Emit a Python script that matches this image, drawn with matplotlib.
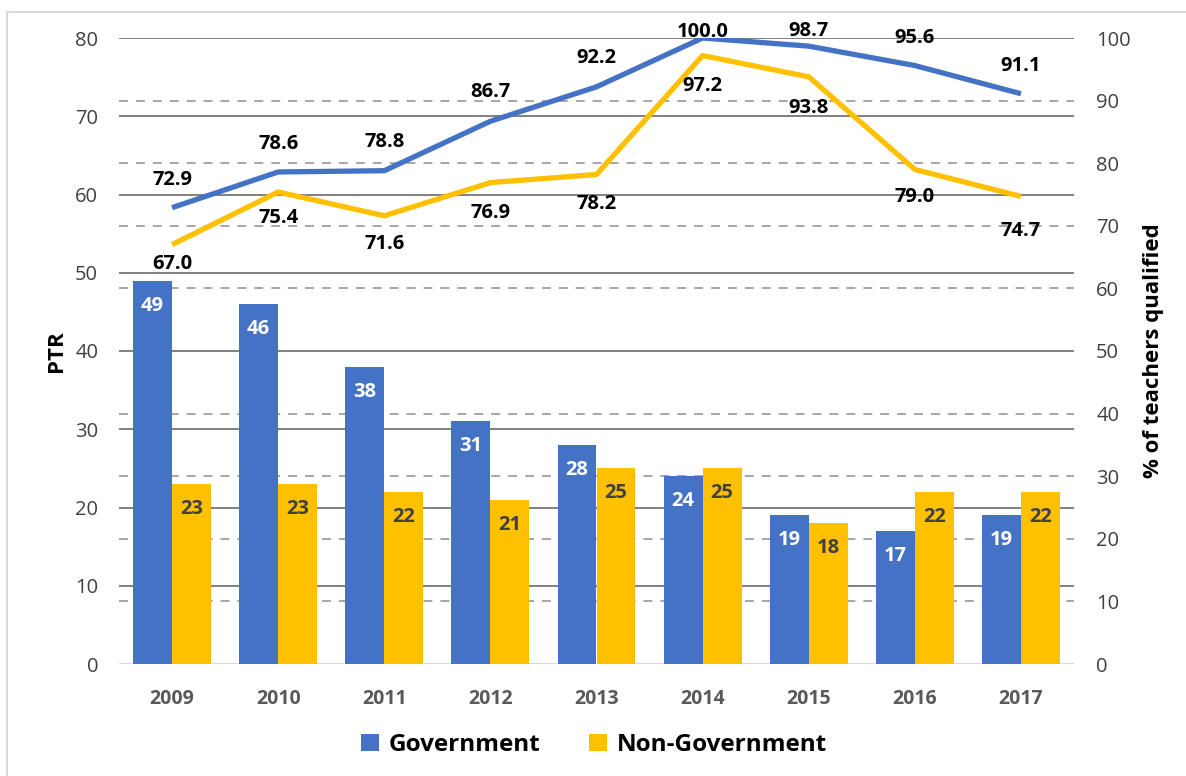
import matplotlib
matplotlib.use("Agg")
import matplotlib.pyplot as plt
from matplotlib.patches import Rectangle
import numpy as np

years = ["2009", "2010", "2011", "2012", "2013", "2014", "2015", "2016", "2017"]
ptr_gov = [49, 46, 38, 31, 28, 24, 19, 17, 19]
ptr_nongov = [23, 23, 22, 21, 25, 25, 18, 22, 22]
qual_gov = [72.9, 78.6, 78.8, 86.7, 92.2, 100.0, 98.7, 95.6, 91.1]
qual_nongov = [67.0, 75.4, 71.6, 76.9, 78.2, 97.2, 93.8, 79.0, 74.7]
left_ticks = [0, 10, 20, 30, 40, 50, 60, 70, 80]
right_ticks = [0, 10, 20, 30, 40, 50, 60, 70, 80, 90, 100]

# label offsets (pixels) for line data labels -- styling only
gov_lab_off = [-28, -28, -29, -29, -29, -6, -15, -28, -28]
non_lab_off = [19, 26, 28, 30, 30, 30, 31, 28, 35]

BLUE = "#4472C4"
YELLOW = "#FFC000"
FONT = ["Open Sans", "DejaVu Sans"]
plt.rcParams['font.family'] = FONT

fig = plt.figure(figsize=(11.86, 7.76), dpi=100)
ax = fig.add_axes([119/1186, 1-664/776, (1074-119)/1186, (664-38)/776])
ax2 = ax.twinx()

x = np.arange(len(years))
bw = 0.3675
LMAX, RMAX = 80, 100

# gridlines
for t in left_ticks[1:]:
    ax.axhline(t, color="#808080", lw=1.4, zorder=1)
for t in right_ticks[1:]:
    yv = t * LMAX / RMAX
    if any(abs(yv - lt) < 1e-9 for lt in left_ticks):
        continue
    ax.axhline(yv, color="#A6A6A6", lw=1.4, linestyle=(0, (4.6, 4.1)), zorder=1)
ax.axhline(0, color="#D9D9D9", lw=1.5, zorder=1)

b1 = ax.bar(x - bw/2, ptr_gov, bw, color=BLUE, zorder=2, label="Government")
b2 = ax.bar(x + bw/2, ptr_nongov, bw, color=YELLOW, zorder=2, label="Non-Government")

for xi, v in zip(x, ptr_gov):
    ax.annotate(str(v), (xi - bw/2, v), xytext=(0, -25), textcoords="offset pixels",
                ha="center", va="center", color="white", fontsize=14.5, fontweight="bold", zorder=3)
for xi, v in zip(x, ptr_nongov):
    ax.annotate(str(v), (xi + bw/2, v), xytext=(0, -25), textcoords="offset pixels",
                ha="center", va="center", color="#404040", fontsize=14.5, fontweight="bold", zorder=3)

ax2.plot(x, qual_gov, color=BLUE, lw=3.8, solid_capstyle="butt", solid_joinstyle="round")
ax2.plot(x, qual_nongov, color=YELLOW, lw=3.8, solid_capstyle="butt", solid_joinstyle="round")
for xi, v, o in zip(x, qual_gov, gov_lab_off):
    ax2.annotate(f"{v:.1f}", (xi, v), xytext=(0, -o), textcoords="offset pixels",
                 ha="center", va="center", color="black", fontsize=14.5, fontweight="bold")
for xi, v, o in zip(x, qual_nongov, non_lab_off):
    ax2.annotate(f"{v:.1f}", (xi, v), xytext=(0, -o), textcoords="offset pixels",
                 ha="center", va="center", color="black", fontsize=14.5, fontweight="bold")

ax.set_xlim(-0.5, len(years) - 0.5)
ax.set_ylim(0, LMAX)
ax2.set_ylim(0, RMAX)
ax.set_yticks(left_ticks)
ax2.set_yticks(right_ticks)
ax.set_xticks(x)
ax.set_xticklabels(years, fontsize=14, fontweight="bold", color="#595959")
ax.tick_params(axis="x", length=0, pad=18)
ax.tick_params(axis="y", length=0, pad=15, labelsize=14.5, labelcolor="#404040")
ax2.tick_params(axis="y", length=0, pad=16, labelsize=14.5, labelcolor="#404040")
for a in (ax, ax2):
    for s in a.spines.values():
        s.set_visible(False)

ax.set_ylabel("PTR", fontsize=16, fontweight="bold", labelpad=6)
ax2.set_ylabel("% of teachers qualified", fontsize=16, fontweight="bold", labelpad=9)

fig.legend(handles=[b1, b2], loc="center", bbox_to_anchor=(0.501, 0.04), ncol=2,
           frameon=False, prop={"size": 17.5, "weight": "bold"},
           handlelength=0.75, handleheight=0.75, columnspacing=2.0, handletextpad=0.4)

fig.patches.append(Rectangle((7/1186, -0.1), 1.2, (776-12)/776 + 0.1, transform=fig.transFigure,
                             fill=False, edgecolor="#D9D9D9", lw=1.5, zorder=0))

fig.savefig("out.png", dpi=100)
